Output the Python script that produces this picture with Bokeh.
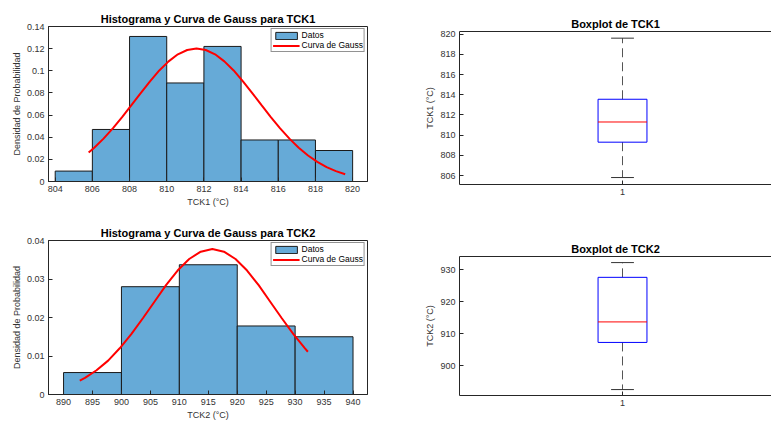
from bokeh.plotting import figure
from bokeh.layouts import row, column
from bokeh.models import (Range1d, LinearAxis, FixedTicker, NumeralTickFormatter,
                          Legend, LegendItem, ColumnDataSource)
from bokeh.embed import file_html
from bokeh.resources import INLINE

# ---------------- data ----------------
tck1_edges = [804, 806, 808, 810, 812, 814, 816, 818, 820]
tck1_density = [0.0094, 0.0470, 0.1310, 0.0890, 0.1220, 0.0375, 0.0375, 0.0280]
tck1_gauss_x = [805.8, 806.1, 806.6, 807.1, 807.6, 808.1, 808.6, 809.1, 809.6, 810.1,
                810.6, 811.1, 811.6, 812.1, 812.6, 813.1, 813.6, 814.1, 814.6, 815.1,
                815.6, 816.1, 816.6, 817.1, 817.6, 818.1, 818.6, 819.1, 819.6]
tck1_gauss_y = [0.0261, 0.0305, 0.0387, 0.0480, 0.0582, 0.0690, 0.0799, 0.0905, 0.1003, 0.1085,
                0.1149, 0.1188, 0.1202, 0.1188, 0.1149, 0.1085, 0.1003, 0.0905, 0.0799, 0.0690,
                0.0582, 0.0480, 0.0387, 0.0305, 0.0235, 0.0177, 0.0130, 0.0094, 0.0066]

tck2_edges = [890, 900, 910, 920, 930, 940]
tck2_density = [0.0057, 0.0280, 0.0337, 0.0178, 0.0150]
tck2_gauss_x = [892.8, 893.7, 895.7, 897.7, 899.7, 901.7, 903.7, 905.7, 907.7, 909.7, 911.7,
                913.7, 915.7, 917.7, 919.7, 921.7, 923.7, 925.7, 927.7, 929.7, 931.7, 932.2]
tck2_gauss_y = [0.0036, 0.0043, 0.0063, 0.0088, 0.0120, 0.0157, 0.0198, 0.0241, 0.0284, 0.0322,
                0.0352, 0.0371, 0.0378, 0.0371, 0.0352, 0.0322, 0.0284, 0.0241, 0.0198, 0.0157,
                0.0120, 0.0111]

# boxplot stats: lower whisker, Q1, median, Q3, upper whisker
tck1_stats = [805.8, 809.3, 811.3, 813.55, 819.6]
tck2_stats = [892.6, 907.3, 913.7, 927.6, 932.2]

tck1_hist_xticks = [804, 806, 808, 810, 812, 814, 816, 818, 820]
tck1_hist_yticks = [0, 0.02, 0.04, 0.06, 0.08, 0.1, 0.12, 0.14]
tck2_hist_xticks = [890, 895, 900, 905, 910, 915, 920, 925, 930, 935, 940]
tck2_hist_yticks = [0, 0.01, 0.02, 0.03, 0.04]
tck1_box_yticks = [806, 808, 810, 812, 814, 816, 818, 820]
tck2_box_yticks = [900, 910, 920, 930]
box_xticks = [1]

FONT = "Liberation Sans"
AX = "#262626"
TXT = "#333333"


def style_axis(ax):
    ax.axis_line_color = AX
    ax.axis_line_width = 1
    ax.major_tick_line_color = AX
    ax.major_tick_in = 4
    ax.major_tick_out = 0
    ax.minor_tick_line_color = None
    ax.major_label_text_font = FONT
    ax.major_label_text_color = TXT
    ax.major_label_text_font_size = "9px"
    ax.major_label_standoff = 4
    ax.axis_label_text_font = FONT
    ax.axis_label_text_font_size = "9px"
    ax.axis_label_text_font_style = "normal"
    ax.axis_label_text_color = TXT
    ax.axis_label_standoff = 2


def base_fig(width, height, xr, yr, title, top, bottom, left, right):
    p = figure(width=width, height=height, x_range=Range1d(*xr), y_range=Range1d(*yr),
               output_backend="svg", toolbar_location=None, title=title,
               min_border_top=top, min_border_bottom=bottom,
               min_border_left=left, min_border_right=right)
    p.title.text_font = FONT
    p.title.text_font_size = "11px"
    p.title.text_font_style = "bold"
    p.title.text_color = "#000000"
    p.title.align = "center"
    p.title.standoff = 3
    p.grid.visible = False
    p.background_fill_color = "white"
    p.border_fill_color = "white"
    return p


def hist_fig(edges, dens, gx, gy, xr, yr, xticks, yticks, title, xlabel,
             height, top, bottom):
    p = base_fig(400, height, xr, yr, title, top, bottom, 48, 33)
    p.outline_line_color = AX
    p.outline_line_width = 1
    src = ColumnDataSource(dict(left=edges[:-1], right=edges[1:], top=dens,
                                bottom=[0] * len(dens)))
    bars = p.quad(left="left", right="right", top="top", bottom="bottom", source=src,
                  fill_color="#66AAD7", line_color="#1a1a1a", line_width=1)
    curve = p.line(gx, gy, line_color="#FF0000", line_width=2)

    p.xaxis.ticker = FixedTicker(ticks=xticks)
    p.yaxis.ticker = FixedTicker(ticks=yticks)
    p.yaxis.formatter = NumeralTickFormatter(format="0.[00]")
    p.xaxis.axis_label = xlabel
    p.yaxis.axis_label = "Densidad de Probabilidad"
    style_axis(p.xaxis[0])
    style_axis(p.yaxis[0])

    legend = Legend(items=[LegendItem(label="Datos", renderers=[bars]),
                           LegendItem(label="Curva de Gauss", renderers=[curve])],
                    location="top_right")
    legend.margin = 2
    legend.padding = 1
    legend.spacing = 0
    legend.label_text_font = FONT
    legend.label_text_font_size = "8.5px"
    legend.label_text_color = "#000000"
    legend.label_height = 9
    legend.label_standoff = 2
    legend.glyph_width = 27
    legend.glyph_height = 9
    legend.border_line_color = AX
    legend.border_line_width = 1
    legend.background_fill_color = "white"
    legend.background_fill_alpha = 1
    p.add_layout(legend)
    return p


def box_fig(stats, yr, yticks, title, ylabel, height, top, bottom):
    lw, q1, med, q3, uw = stats
    p = base_fig(371, height, (0.5, 1.457), yr, title, top, bottom, 59, 0)
    p.outline_line_color = None
    half = 0.075
    cap = 0.035
    p.segment(x0=[1, 1], y0=[q3, q1], x1=[1, 1], y1=[uw, lw],
              line_color="#555555", line_width=1, line_dash="9 5")
    p.segment(x0=[1 - cap, 1 - cap], y0=[uw, lw], x1=[1 + cap, 1 + cap], y1=[uw, lw],
              line_color="#333333", line_width=1)
    p.quad(left=[1 - half], right=[1 + half], bottom=[q1], top=[q3],
           fill_color=None, line_color="#0000FF", line_width=1)
    p.segment(x0=[1 - half], y0=[med], x1=[1 + half], y1=[med],
              line_color="#FF0000", line_width=1)

    p.xaxis.ticker = FixedTicker(ticks=box_xticks)
    p.yaxis.ticker = FixedTicker(ticks=yticks)
    p.yaxis.axis_label = ylabel
    style_axis(p.xaxis[0])
    style_axis(p.yaxis[0])
    top_ax = LinearAxis(ticker=FixedTicker(ticks=[]))
    top_ax.axis_line_color = AX
    top_ax.axis_line_width = 1
    top_ax.major_tick_line_color = None
    top_ax.minor_tick_line_color = None
    top_ax.major_label_standoff = 0
    top_ax.axis_label_standoff = 0
    p.add_layout(top_ax, "above")
    return p


h1 = hist_fig(tck1_edges, tck1_density, tck1_gauss_x, tck1_gauss_y,
              (803.64, 820.8), (0, 0.14), tck1_hist_xticks, tck1_hist_yticks,
              "Histograma y Curva de Gauss para TCK1", "TCK1 (°C)", 215, 26, 34)
h2 = hist_fig(tck2_edges, tck2_density, tck2_gauss_x, tck2_gauss_y,
              (887.4, 942.5), (0, 0.04), tck2_hist_xticks, tck2_hist_yticks,
              "Histograma y Curva de Gauss para TCK2", "TCK2 (°C)", 207, 25, 27)
b1 = box_fig(tck1_stats, (805.11, 820.26), tck1_box_yticks, "Boxplot de TCK1",
             "TCK1 (°C)", 230, 31, 46)
b2 = box_fig(tck2_stats, (890.75, 934.1), tck2_box_yticks, "Boxplot de TCK2",
             "TCK2 (°C)", 192, 26, 27)

layout = row(column(h1, h2), column(b1, b2))
open("out.html", "w").write(file_html(layout, INLINE))
